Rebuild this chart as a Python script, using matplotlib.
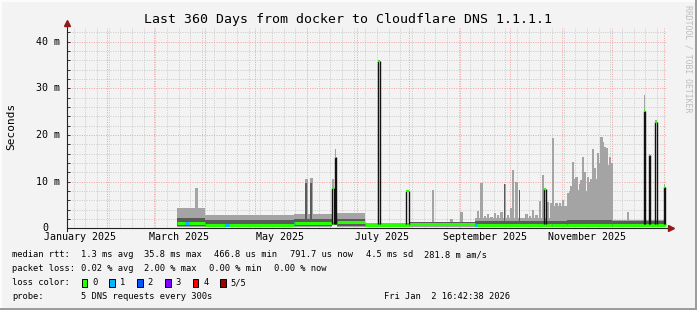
import matplotlib
matplotlib.use('Agg')
import matplotlib.pyplot as plt
import matplotlib.dates as mdates
import matplotlib.transforms as mtransforms
from matplotlib.patches import Rectangle
from matplotlib.ticker import MultipleLocator
import numpy as np
import pandas as pd

W, H = 697, 310
t_start = pd.Timestamp('2025-01-07 16:42')
t_end = pd.Timestamp('2026-01-02 16:42')

# baseline smoke per period (values in ms)
seg_start = ['2025-03-15', '2025-04-01', '2025-05-24', '2025-06-16', '2025-06-19',
             '2025-07-06', '2025-08-01', '2025-09-10', '2025-10-26', '2025-11-04',
             '2025-12-01']
seg_end = ['2025-04-01', '2025-05-24', '2025-06-16', '2025-06-19', '2025-07-06',
           '2025-08-01', '2025-09-10', '2025-10-26', '2025-11-04', '2025-12-01',
           '2026-01-02 16:00']
seg_light = [4.4, 2.8, 3.1, 0.3, 3.3, 1.2, 1.4, 2.3, 4.8, 7.0, 1.8]
seg_dark = [2.2, 1.7, 1.9, 0.45, 1.9, 1.0, 1.4, 1.5, 1.6, 1.7, 1.5]
seg_median = [1.1, 0.7, 1.2, 1.2, 1.3, 0.7, 0.9, 0.8, 0.8, 0.8, 0.8]

# single light smoke bars
peak_dates = ['2025-03-26', '2025-05-31', '2025-06-03', '2025-08-15', '2025-08-26',
              '2025-09-01', '2025-09-11', '2025-09-13', '2025-09-15', '2025-09-17',
              '2025-09-19', '2025-09-21', '2025-09-23', '2025-09-25', '2025-09-27',
              '2025-09-29', '2025-10-01', '2025-10-02', '2025-10-04', '2025-10-08',
              '2025-10-10', '2025-10-12', '2025-10-14', '2025-10-16', '2025-10-18',
              '2025-10-20', '2025-10-23', '2025-10-25', '2025-10-26', '2025-10-28',
              '2025-10-30', '2025-11-01', '2025-11-03', '2025-11-04', '2025-11-05',
              '2025-11-06', '2025-11-07', '2025-11-08', '2025-11-09', '2025-11-10',
              '2025-11-11', '2025-11-12', '2025-11-13', '2025-11-14', '2025-11-15',
              '2025-11-16', '2025-11-17', '2025-11-18', '2025-11-19', '2025-11-20',
              '2025-11-21', '2025-11-22', '2025-11-23', '2025-11-24', '2025-11-25',
              '2025-11-26', '2025-11-27', '2025-11-28', '2025-11-29', '2025-11-30',
              '2025-12-10']
peak_top = [8.6, 10.6, 10.7, 8.2, 1.9,
            3.6, 3.7, 9.8, 2.6, 3.1,
            2.5, 3.3, 2.8, 3.5, 9.5,
            2.9, 4.3, 12.5, 10.0, 2.3,
            3.0, 2.7, 3.9, 2.9, 5.8,
            11.4, 5.6, 5.4, 19.3, 5.5,
            5.4, 6.0, 4.6, 7.5, 8.0,
            9.0, 14.3, 10.5, 11.0, 8.2,
            9.5, 10.3, 15.3, 12.0, 8.0,
            11.0, 10.0, 10.5, 17.1, 13.0,
            10.5, 16.1, 14.0, 19.6, 18.5,
            17.5, 17.2, 13.6, 15.3, 14.0,
            3.6]

# single dark smoke bars
dpeak_dates = ['2025-05-31', '2025-06-03', '2025-09-27', '2025-10-06']
dpeak_top = [9.7, 9.8, 9.4, 8.2]

# median jumps
pulse_start = ['2025-06-16', '2025-06-17 15:00', '2025-07-13 16:00', '2025-07-30 15:00',
               '2025-10-21', '2025-12-20', '2025-12-23', '2025-12-27', '2026-01-01']
pulse_end = ['2025-06-17', '2025-06-18 15:00', '2025-07-14 18:00', '2025-08-01',
             '2025-10-22 14:00', '2025-12-21', '2025-12-24', '2025-12-28', '2026-01-02']
pulse_top = [8.6, 15.3, 35.8, 8.0, 8.4, 25.1, 15.7, 22.8, 8.8]
pulse_smoke = [10.5, 17.1, 35.8, 8.3, 8.6, 28.5, 15.9, 23.2, 9.6]

# median with 1 lost packet
loss1_start = ['2025-03-20', '2025-04-13', '2025-05-24', '2025-09-10']
loss1_end = ['2025-03-22', '2025-04-15', '2025-05-25', '2025-09-11']
loss1_val = [1.1, 0.7, 1.2, 0.8]

x_label_dates = ['2025-01-16', '2025-03-16', '2025-05-16', '2025-07-16', '2025-09-16', '2025-11-16']
x_labels = ['January 2025', 'March 2025', 'May 2025', 'July 2025', 'September 2025', 'November 2025']
y_ticks = [0, 10, 20, 30, 40]
y_labels = ['0', '10 m', '20 m', '30 m', '40 m']

rtt_stats = ['1.3 ms avg', '35.8 ms max', '466.8 us min', '791.7 us now', '4.5 ms sd', '281.8 m am/s']
loss_stats = ['0.02 % avg', '2.00 % max', '0.00 % min', '0.00 % now']
loss_names = ['0', '1', '2', '3', '4', '5/5']
loss_colors = ['#26ff00', '#00b8ff', '#0059ff', '#7e00ff', '#ff0000', '#a10000']

LIGHT = '#a4a4a4'
DARK = '#5a5a5a'
GREEN = loss_colors[0]
BG = '#f3f3f3'
MONO = 'DejaVu Sans Mono'


def d(s):
    return mdates.date2num(pd.to_datetime(s, format='mixed'))


fig = plt.figure(figsize=(W / 100, H / 100), dpi=100, facecolor=BG)
ax = fig.add_axes([66.5 / W, 1 - 228.3 / H, 600 / W, 200.6 / H])
ax.set_facecolor(BG)
ax.set_xlim(d(t_start), d(t_end))
ax.set_ylim(0, 43)

s0, s1 = d(seg_start), d(seg_end)
ax.bar(s0, np.array(seg_light) - 0.3, bottom=0.3, width=s1 - s0, align='edge',
       color=LIGHT, lw=0, zorder=1)
ax.bar(d(peak_dates), np.array(peak_top) - 0.3, bottom=0.3, width=1.4, align='edge',
       color=LIGHT, lw=0, zorder=1)
ax.bar(s0, np.array(seg_dark) - 0.45, bottom=0.45, width=s1 - s0, align='edge',
       color=DARK, lw=0, zorder=1.2)
ax.bar(d(dpeak_dates), np.array(dpeak_top) - 0.45, bottom=0.45, width=1.0, align='edge',
       color=DARK, lw=0, zorder=1.2)

ax.hlines(seg_median, s0, s1, color=GREEN, lw=2.2, zorder=3)
ax.hlines(loss1_val, d(loss1_start), d(loss1_end), color=loss_colors[1], lw=2.2, zorder=3.1)

p0, p1 = d(pulse_start), d(pulse_end)
ax.bar(p0, np.array(pulse_smoke) - np.array(pulse_top), bottom=pulse_top, width=p1 - p0,
       align='edge', color=LIGHT, lw=0, zorder=1)
ax.vlines(np.concatenate([p0, p1]), 0.9, pulse_top + pulse_top, color='#111111', lw=1.0, zorder=4)
ax.hlines(pulse_top, p0, p1, color=GREEN, lw=1.6, zorder=5)

# grid, drawn under the smoke
ax.xaxis.set_major_locator(mdates.MonthLocator())
ax.xaxis.set_minor_locator(mdates.WeekdayLocator(byweekday=mdates.SU))
ax.yaxis.set_major_locator(MultipleLocator(10))
ax.yaxis.set_minor_locator(MultipleLocator(2))
ax.set_axisbelow(True)
ax.grid(which='minor', color='#cbcbcb', ls=(0, (1, 1.4)), lw=0.72)
ax.grid(which='major', color='#f2a4a4', ls=(0, (1, 1.4)), lw=0.72)
ax.tick_params(which='both', labelbottom=False, labelleft=False, bottom=False)
ax.tick_params(axis='y', which='both', direction='in', length=2.5, width=0.7, color='#333333')
for sp in ax.spines.values():
    sp.set_visible(False)

# axes lines with arrows
ax.plot([0, 1.0025], [0, 0], transform=ax.transAxes, color='#222222', lw=0.8, clip_on=False, zorder=6)
ax.plot([0, 0], [-0.013, 1.013], transform=ax.transAxes, color='#222222', lw=0.8, clip_on=False, zorder=6)
ax.plot([1.0075], [0], transform=ax.transAxes, marker='>', ms=4, color='#8e1a1a', clip_on=False, zorder=7)
ax.plot([0], [1.022], transform=ax.transAxes, marker='^', ms=4, color='#8e1a1a', clip_on=False, zorder=7)

# axis labels
ytr = mtransforms.blended_transform_factory(fig.transFigure, ax.transData)
for v, lab in zip(y_ticks, y_labels):
    xr = 48 if v == 0 else 60
    fig.text(xr / W, v, lab, transform=ytr, ha='right', va='center', family=MONO, fontsize=7.2)
xtr = mtransforms.blended_transform_factory(ax.transData, fig.transFigure)
for dt, lab in zip(d(x_label_dates), x_labels):
    fig.text(dt, 1 - 240.5 / H, lab, transform=xtr, ha='center', va='baseline', family=MONO, fontsize=7.2)


def ftext(x, y, s, **kw):
    kw.setdefault('family', MONO)
    return fig.text(x / W, 1 - y / H, s, **kw)


ftext(348, 23.5, 'Last 360 Days from docker to Cloudflare DNS 1.1.1.1', ha='center', va='baseline', fontsize=9.5)
ftext(10.8, 126.7, 'Seconds', rotation=90, ha='center', va='center', fontsize=8)
ftext(688.3, 5, 'RRDTOOL / TOBI OETIKER', rotation=-90, ha='center', va='top', fontsize=5.9, color='#bdbdbd')

# legend
LF = 6.3
ftext(12, 257.3, 'median rtt:', va='baseline', fontsize=LF)
for s, x in zip(rtt_stats, [80.7, 144.3, 214.3, 290.3, 365.7, 424]):
    ftext(x, 257.3, s, va='baseline', fontsize=LF)
ftext(12, 271, 'packet loss:', va='baseline', fontsize=LF)
for s, x in zip(loss_stats, [80.7, 144.3, 209.3, 274]):
    ftext(x, 271, s, va='baseline', fontsize=LF)
ftext(12, 285, 'loss color:', va='baseline', fontsize=LF)
for i, (name, col) in enumerate(zip(loss_names, loss_colors)):
    bx = 81.7 + i * 27.7
    fig.patches.append(Rectangle((bx / W, 1 - 286.7 / H), 5.7 / W, 7.7 / H, transform=fig.transFigure,
                                 facecolor=col, edgecolor='black', lw=0.7))
    ftext(bx + 10.6, 285, name, va='baseline', fontsize=LF)
ftext(12, 298.7, 'probe:', va='baseline', fontsize=LF)
ftext(80.7, 298.7, '5 DNS requests every 300s', va='baseline', fontsize=LF)
ftext(510, 298.7, 'Fri Jan  2 16:42:38 2026', ha='right', va='baseline', fontsize=LF)

# frame
fig.patches.append(Rectangle((0, 0), 1, 2 / H, transform=fig.transFigure, color='#9c9c9c', lw=0))
fig.patches.append(Rectangle((1 - 2 / W, 0), 2 / W, 1, transform=fig.transFigure, color='#9c9c9c', lw=0))
fig.patches.append(Rectangle((0, 1 - 2 / H), 1 - 2 / W, 2 / H, transform=fig.transFigure, color='#fcfcfc', lw=0))
fig.patches.append(Rectangle((0, 2 / H), 2 / W, 1 - 4 / H, transform=fig.transFigure, color='#fcfcfc', lw=0))

fig.savefig('out.png', dpi=100, facecolor=BG)
